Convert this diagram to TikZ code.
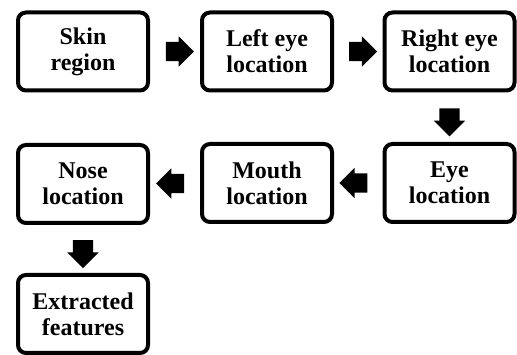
\documentclass[tikz,border=0pt]{standalone}
\usepackage{fontspec}
\setmainfont{Liberation Serif}
\usetikzlibrary{shapes.arrows,calc}
\begin{document}
\begin{tikzpicture}[x=1pt,y=-1pt,
  box/.style={draw, line width=4pt, rounded corners=8pt, minimum width=130pt, minimum height=78pt,
    align=center, inner sep=0pt, font=\fontsize{24}{26}\selectfont\bfseries},
  barrow/.style={single arrow, fill=black, draw=none, inner sep=0pt, text height=0pt, text depth=0pt,
    text width=0pt, single arrow head extend=5.5pt, minimum height=28pt, single arrow head indent=0pt},
  harrow/.style={barrow, inner ysep=9.5pt},
  varrow/.style={barrow, inner xsep=10pt}]
\useasboundingbox (0,0) rectangle (517,355);
\node[box] (skin) at (83,51.5) {Skin\\region};
\node[box] (left) at (267,51.5) {Left eye\\location};
\node[box] (right) at (449.5,51.5) {Right eye\\location};
\node[box] (eye) at (449.5,183) {Eye\\location};
\node[box] (mouth) at (267,183) {Mouth\\location};
\node[box] (nose) at (83,184) {Nose\\location};
\node[box] (extr) at (83,314) {Extracted\\features};
\node[harrow] (a1) at ($(skin.east)!0.5!(left.west)$) {};
\node[harrow] (a2) at ($(left.east)!0.5!(right.west)$) {};
\node[varrow, shape border rotate=270] (a3) at ($(right.south)!0.5!(eye.north)$) {};
\node[harrow, shape border rotate=180] (a4) at ($(eye.west)!0.5!(mouth.east)$) {};
\node[harrow, shape border rotate=180] (a5) at ($(mouth.west)!0.5!(nose.east)$) {};
\node[varrow, shape border rotate=270] (a6) at ($(nose.south)!0.5!(extr.north)$) {};
\end{tikzpicture}
\end{document}
